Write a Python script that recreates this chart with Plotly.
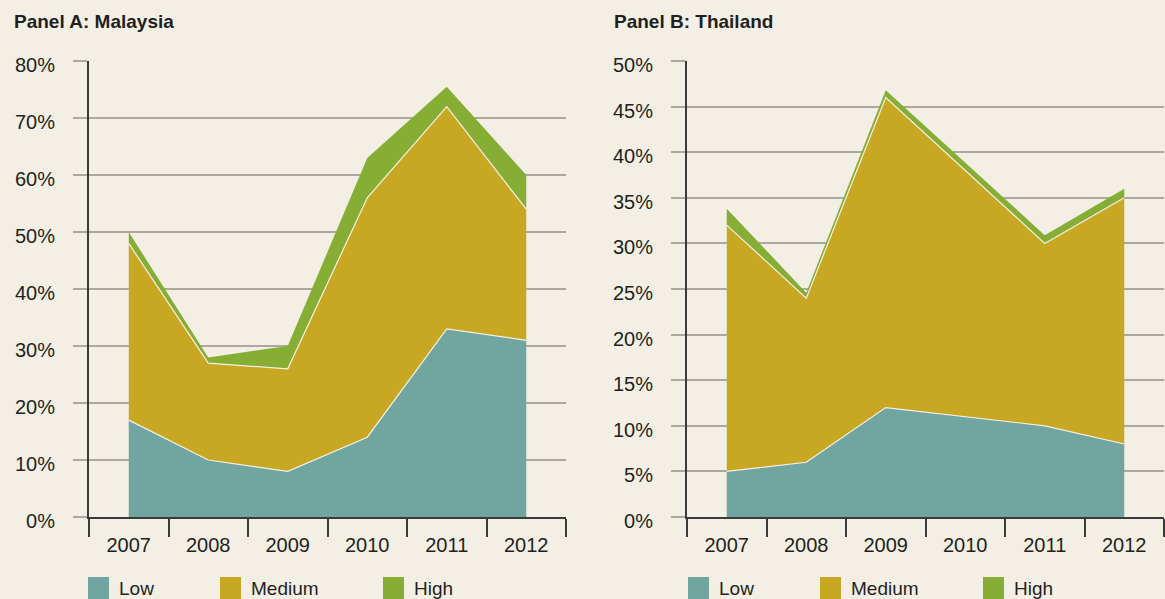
"""
Stacked area panels: share of firms by risk level, Malaysia and Thailand.
"""

import plotly.graph_objects as go

# Data (percent of sample)
years = ['2007', '2008', '2009', '2010', '2011', '2012']
levels = ['Low', 'Medium', 'High']

malaysia_low = [17, 10, 8, 14, 33, 31]
malaysia_medium = [31, 17, 18, 42, 39, 23]
malaysia_high = [2, 1, 4, 7, 3.5, 6]

thailand_low = [5, 6, 12, 11, 10, 8]
thailand_medium = [27, 18, 34, 27, 20, 27]
thailand_high = [1.8, 0.6, 0.8, 0.8, 0.9, 1.0]

panel_titles = ['Panel A: Malaysia', 'Panel B: Thailand']
y_ticks_a = [0, 10, 20, 30, 40, 50, 60, 70, 80]
y_ticks_b = [0, 5, 10, 15, 20, 25, 30, 35, 40, 45, 50]

# Styling
W, H = 1165, 599
colors = {
    'Low': '#71a5a0',
    'Medium': '#c8a722',
    'High': '#86ad34',
    'background': '#f3efe5',
    'grid': '#aca8a0',
    'axis': '#3a3a3a',
    'text': '#231f20',
}
FONT = 'Liberation Sans, Arial, sans-serif'


def fx(px):
    """Pixel x -> paper fraction."""
    return px / W


def fy(py):
    """Pixel y (from top) -> paper fraction."""
    return 1 - py / H


fig = go.Figure()

panels = [
    ('x', 'y', 'a', [malaysia_low, malaysia_medium, malaysia_high]),
    ('x2', 'y2', 'b', [thailand_low, thailand_medium, thailand_high]),
]

for xa, ya, group, series in panels:
    for level, values in zip(levels, series):
        # light separator line on top of each band, except the top one
        line_color = colors['background'] if level != 'High' else colors['High']
        fig.add_trace(go.Scatter(
            x=years,
            y=values,
            name=level,
            xaxis=xa,
            yaxis=ya,
            stackgroup=group,
            mode='lines',
            line=dict(color=line_color, width=1.2 if level != 'High' else 0),
            fillcolor=colors[level],
            showlegend=False,
            hovertemplate=level + ' %{x}: %{y}%<extra></extra>',
        ))

common_x = dict(
    type='category',
    range=[-0.5, len(years) - 0.5],
    tickson='boundaries',
    ticks='outside',
    ticklen=18,
    tickwidth=2,
    tickcolor=colors['axis'],
    showline=True,
    linecolor=colors['axis'],
    linewidth=2,
    showgrid=False,
    zeroline=False,
    automargin=False,
    ticklabelstandoff=9,
    tickfont=dict(size=20, color=colors['text'], family=FONT),
    fixedrange=True,
)
common_y = dict(
    ticks='outside',
    ticklen=14,
    tickwidth=2,
    tickcolor=colors['grid'],
    showline=True,
    linecolor=colors['axis'],
    linewidth=2,
    showgrid=True,
    gridcolor=colors['grid'],
    gridwidth=2,
    zeroline=False,
    automargin=False,
    ticklabelstandoff=14,
    ticklabelshift=4,
    tickfont=dict(size=20, color=colors['text'], family=FONT),
    fixedrange=True,
)

y_bottom, y_top = fy(517), fy(61)

fig.update_layout(
    width=W,
    height=H,
    margin=dict(l=0, r=0, t=0, b=0),
    paper_bgcolor=colors['background'],
    plot_bgcolor=colors['background'],
    font=dict(family=FONT, color=colors['text']),
    xaxis=dict(common_x, domain=[fx(89), fx(566)], anchor='y'),
    yaxis=dict(common_y, domain=[y_bottom, y_top], anchor='x',
               range=[0, 80], tickvals=y_ticks_a,
               ticktext=[f'{v}%' for v in y_ticks_a]),
    xaxis2=dict(common_x, domain=[fx(687), fx(1164)], anchor='y2'),
    yaxis2=dict(common_y, domain=[y_bottom, y_top], anchor='x2',
                range=[0, 50], tickvals=y_ticks_b,
                ticktext=[f'{v}%' for v in y_ticks_b]),
)

# Panel titles
for title, x0 in zip(panel_titles, [12, 612]):
    fig.add_annotation(
        text='<b>' + title + '</b>',
        xref='paper', yref='paper',
        x=fx(x0), y=fy(22),
        xanchor='left', yanchor='middle',
        showarrow=False,
        font=dict(size=19, color=colors['text'], family=FONT),
    )

# Legends under each panel (swatch + label)
legend_offsets = [0, 132, 295]
for axis_px in [88, 688]:
    for level, off in zip(levels, legend_offsets):
        sx = axis_px + off
        fig.add_shape(
            type='rect',
            xref='paper', yref='paper',
            x0=fx(sx), x1=fx(sx + 21),
            y0=fy(599), y1=fy(577),
            fillcolor=colors[level],
            line=dict(width=0),
        )
        fig.add_annotation(
            text=level,
            xref='paper', yref='paper',
            x=fx(sx + 29), y=fy(588),
            xanchor='left', yanchor='middle',
            showarrow=False,
            font=dict(size=19, color=colors['text'], family=FONT),
        )

# drop the default page margin so the figure sits at the window origin
page_fix = ("document.body.style.margin='0';"
            "document.body.style.background='%s';" % colors['background'])
fig.write_html('out.html', post_script=page_fix,
               config={'displayModeBar': False})
